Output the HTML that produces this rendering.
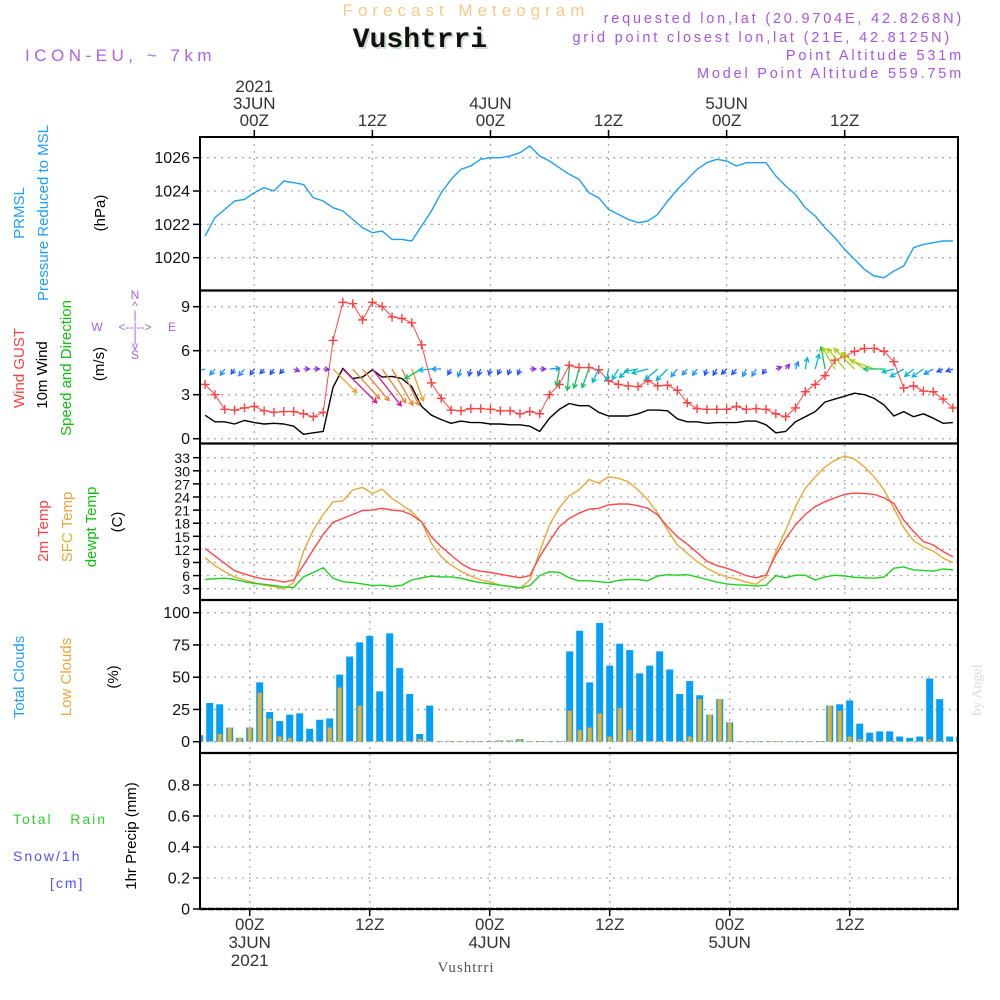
<!DOCTYPE html>
<html><head><meta charset="utf-8"><title>Meteogram Vushtrri</title>
<style>
html,body{margin:0;padding:0;background:#fff;}
svg{display:block;}
text{font-family:"Liberation Sans",sans-serif;}
</style></head>
<body>
<svg id="chart" width="1000" height="1000" viewBox="0 0 1000 1000" xmlns="http://www.w3.org/2000/svg">
<rect width="1000" height="1000" fill="#fff"/>
<!-- header -->
<text x="466" y="16" text-anchor="middle" font-size="17" fill="#f3cc88" letter-spacing="5">Forecast Meteogram</text>
<text x="422" y="49" text-anchor="middle" font-size="28" font-weight="bold" fill="#cfe0cf" style="font-family:'Liberation Mono',monospace">Vushtrri</text>
<text x="420" y="47" text-anchor="middle" font-size="28" font-weight="bold" fill="#111" style="font-family:'Liberation Mono',monospace">Vushtrri</text>
<text x="25" y="61" font-size="17" fill="#b060e0" letter-spacing="4.5">ICON-EU, ~ 7km</text>
<g font-size="14.5" fill="#a855e0" text-anchor="end" letter-spacing="2.8">
<text x="964" y="23">requested lon,lat (20.9704E, 42.8268N)</text>
<text x="952" y="42">grid point closest lon,lat (21E, 42.8125N)</text>
<text x="964" y="60">Point Altitude 531m</text>
<text x="964" y="78">Model Point Altitude 559.75m</text>
</g>
<!-- left axis titles -->
<g font-size="15" text-anchor="middle">
<text transform="translate(24,213) rotate(-90)" fill="#1e9fff">PRMSL</text>
<text transform="translate(48,213) rotate(-90)" fill="#1e9fff">Pressure Reduced to MSL</text>
<text transform="translate(105,213) rotate(-90)" fill="#000">(hPa)</text>
<text transform="translate(24,368) rotate(-90)" fill="#ff4040">Wind GUST</text>
<text transform="translate(47,375) rotate(-90)" fill="#000">10m Wind</text>
<text transform="translate(71,368) rotate(-90)" fill="#10c010">Speed and Direction</text>
<text transform="translate(104,364) rotate(-90)" fill="#000">(m/s)</text>
<text transform="translate(48,531) rotate(-90)" fill="#ff4040">2m Temp</text>
<text transform="translate(72,527) rotate(-90)" fill="#e8a838">SFC Temp</text>
<text transform="translate(96,527) rotate(-90)" fill="#10c010">dewpt Temp</text>
<text transform="translate(122,522) rotate(-90)" fill="#000">(C)</text>
<text transform="translate(24,677) rotate(-90)" fill="#1e9fff">Total Clouds</text>
<text transform="translate(71,677) rotate(-90)" fill="#e8a838">Low Clouds</text>
<text transform="translate(118,677) rotate(-90)" fill="#000">(%)</text>
<text transform="translate(136,836) rotate(-90)" fill="#000">1hr Precip (mm)</text>
</g>
<g font-size="14" letter-spacing="2">
<text x="13" y="824" fill="#30d030" xml:space="preserve">Total   Rain</text>
<text x="13" y="861" fill="#5050ff">Snow/1h</text>
<text x="50" y="888" fill="#5050ff">[cm]</text>
</g>
<!-- compass -->
<g fill="#b060e0" font-size="12" text-anchor="middle">
<text x="135" y="299">N</text><text x="135" y="310">^</text><text x="135" y="319">|</text>
<text x="97" y="331">W</text><text x="135" y="331">&lt;--|--&gt;</text><text x="172" y="331">E</text>
<text x="135" y="342">|</text><text x="135" y="350">v</text><text x="135" y="359">S</text>
</g>
<text transform="translate(981,690) rotate(-90)" text-anchor="middle" font-size="14" fill="#d8d8d8" style="font-family:'Liberation Serif',serif">by Angel</text>
<text x="466" y="972" text-anchor="middle" font-size="15" fill="#555" style="font-family:'Liberation Serif',serif" letter-spacing="1">Vushtrri</text>
<g id="plot"></g>
</svg>
<script>
// ---- data (hours from 3JUN 00Z) ----
const hours = [-5,-4,-3,-2,-1,0,1,2,3,4,5,6,7,8,9,10,11,12,13,14,15,16,17,18,19,20,21,22,23,24,25,26,27,28,29,30,31,32,33,34,35,36,37,38,39,40,41,42,43,44,45,46,47,48,49,50,51,52,53,54,55,56,57,58,59,60,61,62,63,64,65,66,67,68,69,70,71];
const pressure = [1021.3,1022.4,1022.9,1023.4,1023.5,1023.9,1024.2,1024.0,1024.6,1024.5,1024.4,1023.6,1023.4,1023.0,1022.8,1022.3,1021.8,1021.5,1021.6,1021.1,1021.1,1021.0,1021.9,1022.8,1023.9,1024.7,1025.3,1025.5,1025.9,1026.0,1026.0,1026.1,1026.3,1026.7,1026.1,1025.8,1025.4,1025.0,1024.7,1023.9,1023.6,1022.9,1022.6,1022.3,1022.1,1022.2,1022.6,1023.4,1024.1,1024.7,1025.3,1025.7,1025.9,1025.8,1025.5,1025.7,1025.7,1025.7,1024.9,1024.3,1023.8,1023.0,1022.5,1021.8,1021.2,1020.5,1019.9,1019.3,1018.9,1018.8,1019.2,1019.5,1020.6,1020.8,1020.9,1021.0,1021.0];
const gust = [3.7,3.0,2.0,1.95,2.1,2.2,1.9,1.8,1.85,1.85,1.7,1.5,1.8,6.7,9.3,9.2,8.1,9.3,9.0,8.3,8.2,7.9,6.4,3.8,2.75,1.95,1.9,2.05,2.05,2.0,1.9,1.9,1.7,1.85,1.7,3.0,3.7,5.0,4.85,4.85,4.7,3.95,3.7,3.6,3.55,3.95,3.6,3.65,3.3,2.45,2.05,2.0,2.0,2.0,2.2,2.0,2.05,2.0,1.7,1.5,2.1,3.2,3.7,4.3,5.35,5.6,5.95,6.15,6.15,5.95,5.25,3.45,3.6,3.25,3.2,2.7,2.1];
const windSpeed = [1.6,1.15,1.15,1.0,1.25,1.1,1.0,1.05,1.0,0.85,0.3,0.4,0.5,3.5,4.8,4.1,4.2,4.7,4.2,4.25,4.1,3.55,2.2,1.6,1.3,1.05,1.2,1.1,1.1,1.0,1.0,0.95,0.95,0.85,0.5,1.4,2.0,2.4,2.25,2.25,1.8,1.55,1.55,1.55,1.7,1.95,1.95,1.9,1.35,1.15,1.15,1.05,1.1,1.1,1.1,1.2,1.2,0.95,0.4,0.5,1.15,1.5,1.85,2.5,2.7,2.9,3.1,3.0,2.75,2.3,1.55,1.85,1.5,1.7,1.4,1.05,1.1];
const windDirFrom = [75,40,35,35,40,35,40,35,40,290,270,270,275,315,315,318,320,322,325,330,335,340,60,85,90,30,20,15,20,15,25,20,20,270,270,265,10,5,15,20,25,10,30,45,80,75,50,45,40,40,35,20,30,45,40,25,30,35,250,220,200,190,195,170,150,140,135,125,110,90,75,60,50,55,60,65,70];
const temp2m = [12.2,10.5,8.8,7.1,6.4,5.7,5.2,5.0,4.5,5.0,8.4,11.9,15.4,18.2,19.1,20.0,20.9,21.0,21.4,21.0,20.8,19.9,18.3,14.9,12.6,10.7,8.8,7.5,7.0,6.7,6.3,5.9,5.5,6.0,10.3,13.9,17.2,19.1,20.3,21.2,21.4,22.2,22.4,22.4,22.0,21.4,19.9,17.2,14.9,13.2,11.3,9.3,8.3,7.7,6.9,6.0,5.5,6.1,10.7,14.5,17.6,20.0,21.8,22.9,23.8,24.6,24.9,24.8,24.6,23.8,22.5,18.7,16.1,13.8,13.0,11.5,10.3];
const tempSfc = [10.1,8.3,6.9,5.7,5.0,4.4,3.8,3.5,2.9,4.4,11.5,16.4,20.0,22.9,23.1,25.6,26.2,24.8,25.8,23.7,22.2,20.6,18.3,13.4,10.3,8.4,7.0,5.9,5.0,4.5,3.8,3.5,3.1,5.0,11.5,17.6,21.5,24.3,25.6,28.0,27.2,28.6,28.3,27.5,25.6,23.3,20.3,16.4,13.0,11.1,9.2,7.7,6.5,5.7,5.2,4.5,4.0,5.7,11.5,16.4,21.8,26.0,28.6,30.9,32.4,33.4,32.7,30.9,28.6,25.6,21.4,17.0,14.0,12.6,11.6,10.0,9.0];
const dewpt = [5.1,5.3,5.4,5.1,4.6,4.2,4.0,3.7,3.4,3.3,5.7,6.7,7.8,5.4,4.6,4.4,4.1,3.7,3.8,3.5,3.8,5.0,5.5,5.9,5.7,5.7,5.4,4.8,4.4,4.1,3.8,3.5,3.2,3.7,6.0,6.9,6.7,5.5,4.8,4.8,4.6,4.4,4.9,5.1,5.1,4.8,5.9,6.2,6.1,6.2,5.7,5.1,4.5,4.1,3.9,3.8,3.6,3.8,6.0,5.5,6.1,6.1,5.0,5.7,6.1,5.9,5.6,5.5,5.4,5.7,7.7,8.0,7.3,7.2,7.0,7.5,7.3];
const totalClouds = [5,30,29,11,3,11,46,23,16,21,22,10,17,18,52,66,77,82,39,84,57,37,6,28,0.5,0.5,0.5,0.5,0.5,0.5,1,1,2,0.5,0.5,0.5,0.5,70,86,46,92,59,76,71,53,59,70,56,37,47,36,21,33,15,0.5,0.5,0.5,0.5,0.5,0.5,0.5,0.5,0.5,28,29,32,14,7,8,8,4,3,4,49,33,4,4];
const lowClouds = [1,0.5,6,11,3,11,38,18,4,3,0.5,0.5,0.5,11,42,0.5,28,0.5,0.5,0.5,0.5,0.5,2,0.5,0.5,0.5,0.5,0.5,0.5,0.5,1,1,2,0.5,0.5,0.5,0.5,24,9,11,22,4,26,9,0.5,0.5,0.5,0.5,0.5,4,33,21,33,15,0.5,0.5,0.5,0.5,0.5,0.5,0.5,0.5,0.5,28,24,4,2,0.5,0.5,0.5,0.5,0.5,0.5,2,0.5,0.5,0.5];
const precip = [];
const pressureTicks = [1020,1022,1024,1026];
const windTicks = [0,3,6,9];
const tempTicks = [3,6,9,12,15,18,21,24,27,30,33];
const cloudTicks = [0,25,50,75,100];
const precipTicks = [0,0.2,0.4,0.6,0.8];
const timeTicks = [0,12,24,36,48,60];
const topDateLabels = ["3JUN","","4JUN","","5JUN",""];

// ---- scales ----
const x = h => 254.3 + 9.84*h;          // upper panels
const xb = h => 249.7 + 10*h;           // clouds / precip panels
const yP = p => 257.7 - (p-1020)*16.67;
const yW = v => 438.7 - v*14.67;
const yT = t => 588.7 - (t-3)*4.367;
const yC = c => 741.7 - c*1.29;
const yR = r => 909 - r*155;
const L = 200, R = 958;

const NS = "http://www.w3.org/2000/svg";
const plot = document.getElementById('plot');
function mk(tag, attrs, parent){
  const e = document.createElementNS(NS, tag);
  for (const k in attrs) e.setAttribute(k, attrs[k]);
  (parent||plot).appendChild(e);
  return e;
}
const dot = {stroke:'#aaa','stroke-width':1.3,'stroke-dasharray':'2 5'};

const defs = mk('defs',{});
const cp = mk('clipPath',{id:'clipArea'},defs);
mk('rect',{x:L,y:137,width:R-L,height:772},cp);

function yAxis(ticks, yf, name, fmt, fsize){
  ticks.forEach(t=>{
    const g = mk('line',Object.assign({x1:L,x2:R,y1:yf(t),y2:yf(t)},dot));
    
    
    mk('line',{x1:L-7,x2:L,y1:yf(t),y2:yf(t),stroke:'#000','stroke-width':1.5});
    const tx = mk('text',{x:L-10,y:yf(t)+5.5,'text-anchor':'end','font-size':fsize||16,fill:'#111'});
    tx.textContent = fmt ? fmt(t) : t;
    
    
  });
}
yAxis(pressureTicks, yP, 'pressure');
yAxis(windTicks, yW, 'wind');
yAxis(tempTicks, yT, 'temp', null, 14);
yAxis(cloudTicks, yC, 'cloud');
yAxis(precipTicks, yR, 'precip', t=>t===0?'0':t.toFixed(1));

timeTicks.forEach((h,i)=>{
  const v1 = mk('line',Object.assign({x1:x(h),x2:x(h),y1:137,y2:600},dot));
  
  
  const v2 = mk('line',Object.assign({x1:xb(h),x2:xb(h),y1:600,y2:909},dot));
  
  
  mk('line',{x1:x(h),x2:x(h),y1:130,y2:137,stroke:'#000','stroke-width':1.5});
  mk('line',{x1:xb(h),x2:xb(h),y1:909,y2:916,stroke:'#000','stroke-width':1.5});
  const hz = (h%24===0)?'00Z':'12Z';
  const t1 = mk('text',{x:x(h),y:126,'text-anchor':'middle','font-size':17,fill:'#333'});
  t1.textContent = hz;
  
  
  if (topDateLabels[i]) {
    const t2 = mk('text',{x:x(h),y:109,'text-anchor':'middle','font-size':17,fill:'#333'});
    t2.textContent = topDateLabels[i];
    
    
  }
  const b1 = mk('text',{x:xb(h),y:930,'text-anchor':'middle','font-size':17,fill:'#333'});
  b1.textContent = hz;
  
  
  if (topDateLabels[i]) {
    const b2 = mk('text',{x:xb(h),y:948,'text-anchor':'middle','font-size':17,fill:'#333'});
    b2.textContent = topDateLabels[i];
    
    
  }
});
const yr1 = mk('text',{x:x(0),y:92,'text-anchor':'middle','font-size':17,fill:'#333'});
yr1.textContent = '2021';


const yr2 = mk('text',{x:xb(0),y:966,'text-anchor':'middle','font-size':17,fill:'#333'});
yr2.textContent = '2021';



const area = mk('g',{'clip-path':'url(#clipArea)'});

function line(vals, yf, color, name, w){
  const pts = vals.map((v,i)=>x(hours[i]).toFixed(1)+','+yf(v).toFixed(1)).join(' ');
  const p = mk('polyline',{points:pts,fill:'none',stroke:color,'stroke-width':w||1.4,'stroke-linejoin':'round'},area);
  
  
}
line(pressure, yP, '#1ea0f0', 'pressure-line');

totalClouds.forEach((c,i)=>{
  const b = mk('rect',{x:xb(hours[i])-3.5,y:yC(c),width:7,height:yC(0)-yC(c),fill:'#049ff6'},area);
  
  
});
lowClouds.forEach((c,i)=>{
  const b = mk('rect',{x:xb(hours[i])-2,y:yC(c),width:4,height:yC(0)-yC(c),fill:'#e8b030'},area);
  
  
});
precip.forEach((r,i)=>{
  const b = mk('rect',{x:xb(hours[i])-3.5,y:yR(r),width:7,height:yR(0)-yR(r),fill:'#30d030'},area);
  
  
});

line(tempSfc, yT, '#e8a838', 'sfc-temp-line');
line(temp2m, yT, '#ff4848', '2m-temp-line');
line(dewpt, yT, '#20d020', 'dewpoint-line');

line(windSpeed, yW, '#000', 'wind-speed-line');
line(gust, yW, '#ff4848', 'wind-gust-line', 1);
gust.forEach((g,i)=>{
  const cx = x(hours[i]), cy = yW(g);
  const m = mk('path',{d:`M${cx-4.5},${cy}H${cx+4.5}M${cx},${cy-4.5}V${cy+4.5}`,stroke:'#ff4040','stroke-width':1.4},area);
  
  
});
function windColor(s){
  if (s<0.9) return '#8a2be2';
  if (s<1.15) return '#2050ff';
  if (s<1.5) return '#1e90ff';
  if (s<2.0) return '#00b8d0';
  if (s<2.6) return '#10c060';
  if (s<3.3) return '#a8d010';
  if (s<4.0) return '#f0a020';
  if (s<4.5) return '#f08030';
  return '#e0108a';
}
const baseY = 369;
windSpeed.forEach((s,i)=>{
  const len = Math.max(6, 11*s-5);
  const to = (windDirFrom[i]+180)*Math.PI/180;
  const dx = Math.sin(to)*len, dy = -Math.cos(to)*len;
  const x0 = x(hours[i]), x1 = x0+dx, y1 = baseY+dy;
  const ang = Math.atan2(dy,dx), hl = 5;
  const a1x = x1 - hl*Math.cos(ang-0.5), a1y = y1 - hl*Math.sin(ang-0.5);
  const a2x = x1 - hl*Math.cos(ang+0.5), a2y = y1 - hl*Math.sin(ang+0.5);
  const a = mk('path',{d:`M${x0},${baseY}L${x1},${y1}M${a1x},${a1y}L${x1},${y1}L${a2x},${a2y}`,stroke:windColor(s),'stroke-width':1.3,fill:'none'},area);
  
  
});

const fr = mk('rect',{x:L,y:137,width:R-L,height:772,fill:'none',stroke:'#000','stroke-width':2});


[290.5,443.5,600,753].forEach(yy=>{
  const s = mk('line',{x1:L,x2:R,y1:yy,y2:yy,stroke:'#000','stroke-width':2.2});
  
  
});
const zl = mk('line',{x1:L,x2:R,y1:909,y2:909,stroke:'#000','stroke-width':2.5,'stroke-dasharray':'6 2'});


</script>
</body></html>
